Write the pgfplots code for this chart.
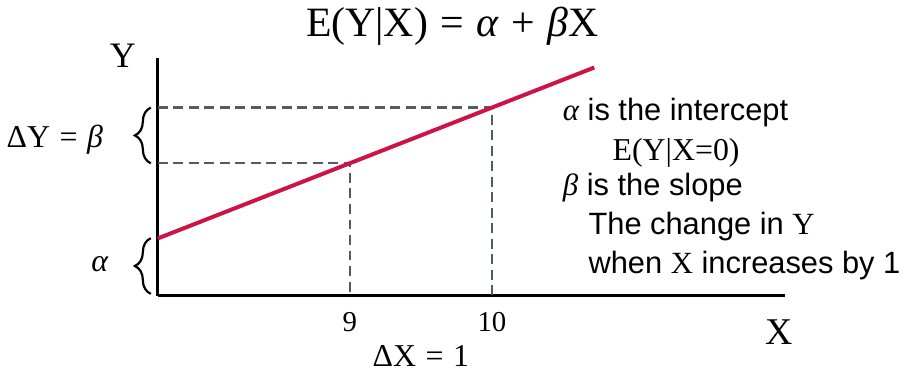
\documentclass[border=0pt]{standalone}
\usepackage{fontspec}
\setmainfont{Liberation Sans}
\newfontfamily\serif{Liberation Serif}
\usepackage{pgfplots}
\pgfplotsset{compat=1.18}
\usetikzlibrary{decorations.pathreplacing}

\definecolor{regred}{RGB}{204,20,70}
\definecolor{guide}{RGB}{85,90,105}

% italic greek letters in the serif face
\newcommand{\ga}{{\serif\itshape α}}
\newcommand{\gb}{{\serif\itshape β}}
\newcommand{\gap}{\hspace{0.3em}}

\begin{document}
\begin{tikzpicture}
\begin{axis}[
    x=71.5pt, y=28pt,
    xmin=7.65, xmax=12.06,
    ymin=0, ymax=4.27,
    axis lines=left,
    axis line style={-, line width=1.5pt},
    xtick={9,10},
    xticklabels={9,10},
    ytick=\empty,
    major tick length=0pt,
    xticklabel style={font=\serif\fontsize{14.5}{14.5}\selectfont, anchor=base, yshift=-18pt},
    clip=false,
    every node/.append style={inner sep=0pt},
]
% guide lines at X=9 and X=10
\addplot[guide, line width=1.2pt, dash pattern=on 5pt off 2.8pt] coordinates {(7.65,2.375) (9,2.375) (9,0)};
\addplot[guide, line width=1.2pt, dash pattern=on 5pt off 2.8pt] coordinates {(7.65,3.375) (10,3.375) (10,0)};
% regression line
\addplot[regred, line width=2pt] coordinates {(7.65,1.025) (10.72,4.095)};

% braces
\draw[line width=1.1pt, decorate, decoration={brace, amplitude=8pt}]
    ([xshift=-3.5pt]axis cs:7.65,2.375) -- ([xshift=-3.5pt]axis cs:7.65,3.375);
\draw[line width=1.1pt, decorate, decoration={brace, amplitude=8pt}]
    ([xshift=-3.5pt]axis cs:7.65,0.03) -- ([xshift=-3.5pt]axis cs:7.65,1.03);

% labels
\node[font=\serif\fontsize{21}{24}\selectfont, anchor=base] at (axis cs:9.72,4.66) {E(Y|X)\gap=\gap\ga\gap+\gap\gb{}X};
\node[font=\serif\fontsize{18}{18}\selectfont, anchor=base] at (axis cs:7.405,4.09) {Y};
\node[font=\serif\fontsize{19}{19}\selectfont, anchor=base] at (axis cs:12.02,-0.875) {X};
\node[font=\serif\fontsize{16}{16}\selectfont, anchor=base] at (axis cs:9.5,-1.268) {ΔX\gap=\gap1};
\node[font=\serif\fontsize{16}{16}\selectfont, anchor=base east] at (axis cs:7.314,2.66) {ΔY\gap=\gap\gb};
\node[font=\serif\fontsize{16}{16}\selectfont, anchor=base east] at (axis cs:7.35,0.429) {\ga};

% explanation
\node[font=\fontsize{15.5}{15.5}\selectfont, anchor=base west] at (axis cs:10.45,3.143) {\ga{} is the intercept};
\node[font=\serif\fontsize{16}{16}\selectfont, anchor=base west] at (axis cs:10.8,2.429) {E(Y|X=0)};
\node[font=\fontsize{15.5}{15.5}\selectfont, anchor=base west] at (axis cs:10.45,1.804) {\gb{} is the slope};
\node[font=\fontsize{15.5}{15.5}\selectfont, anchor=base west] at (axis cs:10.63,1.089) {The change in {\serif Y}};
\node[font=\fontsize{15.5}{15.5}\selectfont, anchor=base west] at (axis cs:10.63,0.393) {when {\serif X} increases by 1};
\end{axis}
\end{tikzpicture}
\end{document}
